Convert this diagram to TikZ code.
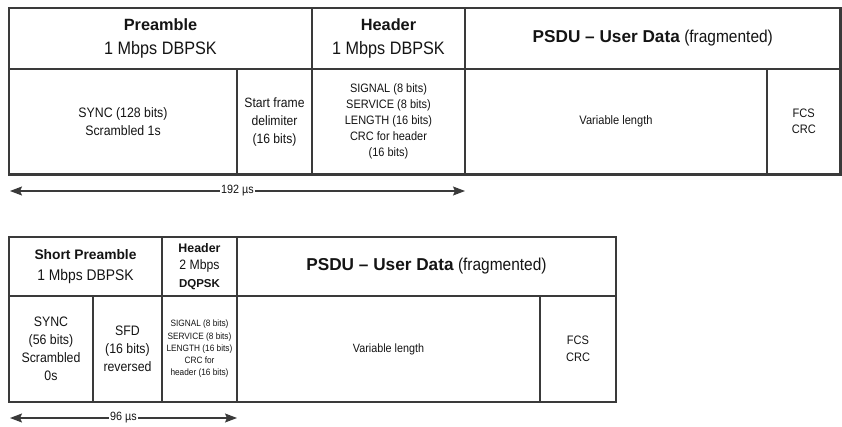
\documentclass[tikz,border=0pt]{standalone}
\usepackage{fontspec}
\setmainfont{Liberation Sans}[FakeStretch=0.9, BoldFeatures={FakeStretch=1.0}]
\usepackage{xcolor}
\usepackage{tikz}
\usetikzlibrary{arrows.meta, positioning}

\definecolor{rahmen}{RGB}{58,58,58}
\definecolor{schrift}{RGB}{20,20,20}

\tikzset{
	feld/.style={
		rectangle,
		draw=rahmen,
		line width=2.2pt,
		inner sep=0pt,
		align=center,
		text=schrift
	},
	pfeil/.style={
		{Stealth[length=12pt,width=9pt,inset=2pt]}-{Stealth[length=12pt,width=9pt,inset=2pt]},
		draw=rahmen,
		line width=1.3pt
	},
	dauer/.style={
		fill=white,
		inner sep=1pt,
		text=schrift,
		font=\fontsize{12}{14}\selectfont
	}
}

\begin{document}
\begin{tikzpicture}[x=1pt, y=-1pt]
	\useasboundingbox (0,0) rectangle (842,427);

	% Langer Rahmen (oben)
	\node[
		feld,
		minimum width=303pt, minimum height=61pt,
		font=\fontsize{18}{24.3}\selectfont
	] (praeambel) at (160.5,38.5) {{\fontsize{16.3}{24.3}\selectfont\bfseries Preamble}\\1 Mbps DBPSK};
	\node[
		feld,
		minimum width=153pt, minimum height=61pt,
		font=\fontsize{18}{24.3}\selectfont
	] (kopf) at (388.5,38.5) {{\fontsize{16.3}{24.3}\selectfont\bfseries Header}\\1 Mbps DBPSK};
	\node[
		feld,
		minimum width=375.5pt, minimum height=61pt,
		font=\fontsize{17.2}{20}\selectfont
	] (psdu) at (652.75,38.5) {\textbf{PSDU -- User Data} (fragmented)};
	\node[
		feld,
		minimum width=228pt, minimum height=105.5pt,
		font=\fontsize{13.7}{17.5}\selectfont
	] (sync) at (123,121.75) {SYNC (128 bits)\\Scrambled 1s};
	\node[
		feld,
		minimum width=75pt, minimum height=105.5pt,
		font=\fontsize{13.5}{18}\selectfont
	] (sfd) at (274.5,121.75) {Start frame\\delimiter\\(16 bits)};
	\node[
		feld,
		minimum width=153pt, minimum height=105.5pt,
		font=\fontsize{12.2}{16}\selectfont
	] (kopffelder) at (388.5,121.75) {SIGNAL (8 bits)\\SERVICE (8 bits)\\LENGTH (16 bits)\\CRC for header\\(16 bits)};
	\node[
		feld,
		minimum width=302pt, minimum height=105.5pt,
		font=\fontsize{12.3}{16}\selectfont
	] (daten) at (616,121.75) {Variable length};
	\node[
		feld,
		minimum width=73.5pt, minimum height=105.5pt,
		font=\fontsize{12.3}{16}\selectfont
	] (fcs) at (803.75,121.75) {FCS\\CRC};
	% Dauer (oben)
	\coordinate (lang-a) at (10,191);
	\coordinate (lang-b) at (465,191);
	\draw[pfeil] (lang-a) -- (lang-b)
		node[dauer, pos=0.5] (lang-t) {192 µs};

	% Kurzer Rahmen (unten)
	\node[
		feld,
		minimum width=153pt, minimum height=59pt,
		font=\fontsize{15.4}{21}\selectfont
	] (kpraeambel) at (85.5,266.5) {{\fontsize{13.8}{21}\selectfont\bfseries Short Preamble}\\1 Mbps DBPSK};
	\node[
		feld,
		minimum width=75pt, minimum height=59pt,
		font=\fontsize{13.6}{17.5}\selectfont
	] (kkopf) at (199.5,266.5) {{\fontsize{12.4}{17.5}\selectfont\bfseries Header}\\2 Mbps\\{\fontsize{11.5}{17.5}\selectfont\bfseries DQPSK}};
	\node[
		feld,
		minimum width=379pt, minimum height=59pt,
		font=\fontsize{17.2}{20}\selectfont
	] (kpsdu) at (426.5,266.5) {\textbf{PSDU -- User Data} (fragmented)};
	\node[
		feld,
		minimum width=84pt, minimum height=106pt,
		font=\fontsize{13.7}{18}\selectfont
	] (ksync) at (51,349) {SYNC\\(56 bits)\\Scrambled\\0s};
	\node[
		feld,
		minimum width=69pt, minimum height=106pt,
		font=\fontsize{13.7}{18}\selectfont
	] (ksfd) at (127.5,349) {SFD\\(16 bits)\\reversed};
	\node[
		feld,
		minimum width=75pt, minimum height=106pt,
		font=\fontsize{9.2}{12.2}\selectfont
	] (kkopffelder) at (199.5,349) {SIGNAL (8 bits)\\SERVICE (8 bits)\\LENGTH (16 bits)\\CRC for\\header (16 bits)};
	\node[
		feld,
		minimum width=303pt, minimum height=106pt,
		font=\fontsize{12}{16}\selectfont
	] (kdaten) at (388.5,349) {Variable length};
	\node[
		feld,
		minimum width=76pt, minimum height=106pt,
		font=\fontsize{12.3}{16.7}\selectfont
	] (kfcs) at (578,349) {FCS\\CRC};
	% Dauer (unten)
	\coordinate (kurz-a) at (10,418);
	\coordinate (kurz-b) at (237,418);
	\draw[pfeil] (kurz-a) -- (kurz-b)
		node[dauer, pos=0.5] (kurz-t) {96 µs};

\end{tikzpicture}
\end{document}
